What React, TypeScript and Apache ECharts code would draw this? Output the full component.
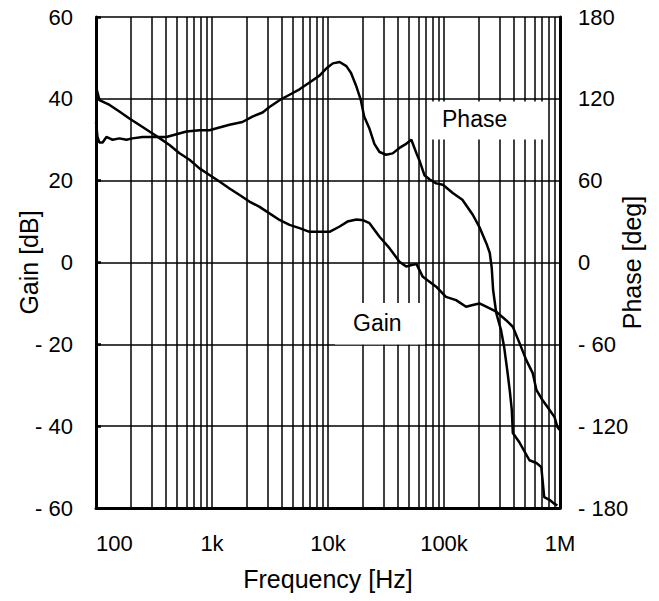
import React, { useEffect, useRef } from "react";
import * as echarts from "echarts";

// Frequency axis tick labels (decades)
const xTickValues = [100, 1000, 10000, 100000, 1000000];
const xTickLabels = ["100", "1k", "10k", "100k", "1M"];

// Gain curve [Hz] / [dB]
const gainFreq = [
  100, 107, 131, 159, 194, 237, 289, 353, 430, 525, 640, 780, 951, 1160, 1415, 1730,
  2100, 2570, 3130, 3820, 4660, 5680, 6930, 8450, 10300, 12600, 14700, 17600, 20200,
  22800, 27800, 33900, 41300, 47200, 52500, 57900, 65700, 85600, 104000, 127000,
  155000, 177000, 202000, 231000, 282000, 343000, 392000, 448000, 511000, 583000,
  627000, 706000, 811000, 897000, 950000, 1000000,
];
const gainDb = [
  43.0, 39.7, 38.5, 36.9, 35.2, 33.6, 32.0, 30.4, 28.7, 26.7, 25.1, 23.0, 21.4, 19.8,
  18.1, 16.5, 14.9, 13.6, 12.0, 10.4, 9.2, 8.4, 7.5, 7.5, 7.5, 8.8, 10.0, 10.5, 10.3,
  9.6, 6.3, 3.5, 0.2, -1.0, -0.6, -0.4, -3.5, -5.9, -8.4, -9.2, -10.8, -10.4, -10.0,
  -10.8, -12.0, -14.1, -15.7, -19.7, -23.8, -27.1, -31.2, -33.6, -36.0, -37.8, -40.2,
  -41.0,
];

// Phase curve [Hz] / [deg]
const phaseFreq = [
  100, 103, 107, 114, 123, 131, 139, 159, 183, 206, 252, 332, 405, 494, 603, 780, 951,
  1160, 1415, 1830, 2230, 2730, 3130, 3820, 4660, 5680, 6930, 8450, 9600, 11000, 12600,
  14400, 15800, 17400, 19200, 20500, 22800, 25100, 27800, 31700, 36100, 41300, 47200,
  52300, 57900, 61300, 67800, 74800, 85600, 97800, 119000, 144000, 177000, 202000,
  232000, 248000, 258000, 265000, 282000, 309000, 330000, 351000, 369000, 384000,
  392000, 448000, 545000, 627000, 690000, 731000, 811000, 897000, 950000,
];
const phaseDeg = [
  103, 92, 88, 88, 92, 91, 90, 91, 90, 91, 92, 92, 92, 94, 96, 97, 97, 99, 101, 103,
  107, 110, 114, 119, 123, 127, 132, 137, 142, 146, 147, 144, 139, 130, 119, 107, 98,
  87, 81, 79, 80, 84, 87, 90, 80, 75, 64, 61, 58, 57, 51, 46, 35, 26, 14, 7, -4, -20,
  -37, -49, -62, -79, -94, -108, -125, -132, -145, -147, -150, -172, -174, -177, -178,
];

// Minor vertical grid lines (2..9 within each decade)
const minorGrid: number[] = [];
for (let d = 100; d < 1000000; d *= 10) {
  for (let m = 2; m <= 9; m++) minorGrid.push(d * m);
}

const FONT = "'Liberation Sans', Arial, sans-serif";

export default function App() {
  const ref = useRef<HTMLDivElement>(null);
  useEffect(() => {
    if (!ref.current) return;
    const chart = echarts.init(ref.current, undefined, { renderer: "svg" });
    const negFmt = (v: number) => (v < 0 ? "- " + Math.abs(v) : String(v));
    chart.setOption({
      animation: false,
      backgroundColor: "#fff",
      textStyle: { fontFamily: FONT, color: "#000" },
      grid: { left: 96, right: 99, top: 17, bottom: 93, containLabel: false, outerBoundsMode: "none" },
      xAxis: {
        type: "log",
        logBase: 10,
        min: xTickValues[0],
        max: xTickValues[xTickValues.length - 1],
        splitNumber: 4,
        name: "Frequency [Hz]",
        nameLocation: "middle",
        nameGap: 58,
        nameMoveOverlap: false,
        nameTextStyle: { fontSize: 25, color: "#000", fontFamily: FONT },
        axisLine: { show: true, onZero: false, lineStyle: { color: "#000", width: 3 } },
        axisTick: { show: false },
        axisLabel: {
          color: "#000",
          fontSize: 22,
          margin: 24,
          fontFamily: FONT,
          alignMinLabel: "left",
          formatter: (v: number) => {
            const i = Math.round(Math.log10(v)) - 2;
            return xTickLabels[i] ?? "";
          },
        },
        splitLine: { show: true, lineStyle: { color: "#000", width: 1.5 } },
      },
      yAxis: [
        {
          type: "value",
          min: -60,
          max: 60,
          interval: 20,
          position: "left",
          name: "Gain [dB]",
          nameLocation: "middle",
          nameGap: 55,
          nameRotate: 90,
          nameMoveOverlap: false,
          nameTextStyle: { fontSize: 25, color: "#000", fontFamily: FONT },
          axisLine: { show: true, onZero: false, lineStyle: { color: "#000", width: 3 } },
          axisTick: { show: true, inside: true, length: 5, lineStyle: { color: "#000", width: 2.5 } },
          axisLabel: { color: "#000", fontSize: 22, margin: 23, fontFamily: FONT, formatter: negFmt },
          splitLine: { show: true, lineStyle: { color: "#000", width: 1.5 } },
        },
        {
          type: "value",
          min: -180,
          max: 180,
          interval: 60,
          position: "right",
          name: "Phase [deg]",
          nameLocation: "middle",
          nameGap: 59,
          nameRotate: 90,
          nameMoveOverlap: false,
          nameTextStyle: { fontSize: 25, color: "#000", fontFamily: FONT },
          axisLine: { show: true, onZero: false, lineStyle: { color: "#000", width: 3 } },
          axisTick: { show: false },
          axisLabel: { color: "#000", fontSize: 22, margin: 18, fontFamily: FONT, formatter: negFmt },
          splitLine: { show: false },
        },
      ],
      series: [
        {
          name: "Gain",
          type: "line",
          yAxisIndex: 0,
          showSymbol: false,
          data: gainFreq.map((f, i) => [f, gainDb[i]]),
          lineStyle: { color: "#000", width: 2.5 },
          itemStyle: { color: "#000" },
          markLine: {
            silent: true,
            symbol: ["none", "none"],
            label: { show: false },
            lineStyle: { color: "#000", width: 1.5, type: "solid" },
            data: minorGrid.map((f) => ({ xAxis: f })),
          },
          z: 3,
        },
        {
          name: "Phase",
          type: "line",
          yAxisIndex: 1,
          showSymbol: false,
          data: phaseFreq.map((f, i) => [f, phaseDeg[i]]),
          lineStyle: { color: "#000", width: 2.5 },
          itemStyle: { color: "#000" },
          z: 3,
        },
      ],
      graphic: [
        { type: "rect", z: 100, shape: { x: 431, y: 101.5, width: 114, height: 38 }, style: { fill: "#fff" } },
        {
          type: "text",
          z: 101,
          x: 442,
          y: 119,
          style: { text: "Phase", fontSize: 23, fontFamily: FONT, fill: "#000", verticalAlign: "middle" },
        },
        { type: "rect", z: 100, shape: { x: 335, y: 303, width: 90, height: 41.5 }, style: { fill: "#fff" } },
        {
          type: "text",
          z: 101,
          x: 353,
          y: 323,
          style: { text: "Gain", fontSize: 23, fontFamily: FONT, fill: "#000", verticalAlign: "middle" },
        },
      ],
    });
    return () => chart.dispose();
  }, []);
  return (
    <div
      ref={ref}
      style={{ position: "fixed", left: 0, top: 0, width: 659, height: 601 }}
    />
  );
}
